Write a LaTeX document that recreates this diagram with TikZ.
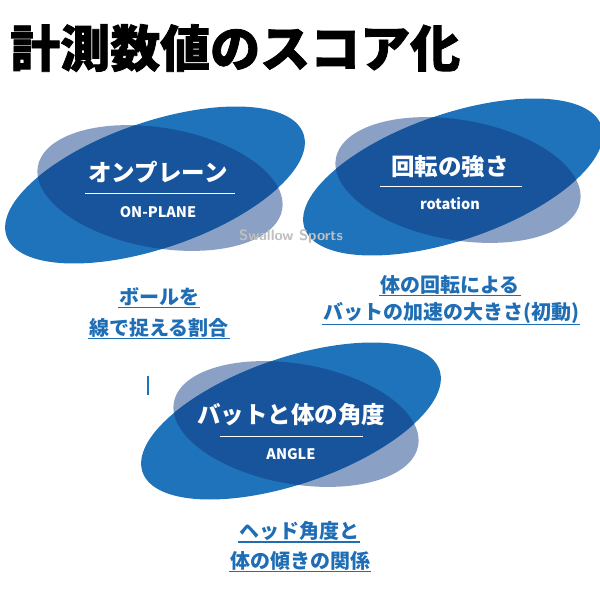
\documentclass[tikz,border=0pt]{standalone}
\usepackage{fontspec}
\newfontfamily\jp{Noto Sans CJK JP}
\newfontfamily\jptitle{Noto Sans CJK JP}[FakeBold=1.5]
\definecolor{ovalblue}{RGB}{30,115,186}
\definecolor{ovalgrey}{RGB}{138,160,196}
\definecolor{ovaldark}{RGB}{24,84,156}
\definecolor{capblue}{RGB}{31,110,181}

\begin{document}
\begin{tikzpicture}[x=1pt,y=-1pt,
  heading/.style={text=white, font=\jp\bfseries\fontsize{23.5}{23.5}\selectfont, inner sep=0},
  subhead/.style={text=white, font=\jp\bfseries\fontsize{14.5}{14.5}\selectfont, inner sep=0},
  caption/.style={text=capblue, font=\jp\bfseries\fontsize{20}{20}\selectfont, inner sep=1pt}]
\useasboundingbox (0,0) rectangle (600,600);

\node[anchor=west, inner sep=0, font=\jptitle\bfseries\fontsize{50}{50}\selectfont] (title) at (10,48) {計測数値のスコア化};

% three pairs of ovals
\foreach \dx/\dy in {0/0, 298/-8, 136/236} {
  \begin{scope}[shift={(\dx,\dy)}]
    \fill[ovalgrey, rotate around={-10:(160,188)}] (160,188) ellipse [x radius=124, y radius=60];
    \fill[ovalblue, rotate around={19:(155,185)}] (155,185) ellipse [x radius=157, y radius=63];
    \begin{scope}
      \clip[rotate around={-10:(160,188)}] (160,188) ellipse [x radius=124, y radius=60];
      \fill[ovaldark, rotate around={19:(155,185)}] (155,185) ellipse [x radius=157, y radius=63];
    \end{scope}
  \end{scope}
}
\draw[ovalblue, line width=1.5] (148,376) -- (148,395);

\node[heading] (h1) at (158,172) {オンプレーン};
\draw[white, line width=1] (85,193) -- (235,193);
\node[subhead] (s1) at (158,212) {ON-PLANE};

\node[heading] (h2) at (450,167) {回転の強さ};
\draw[white, line width=1] (380,186) -- (522,186);
\node[subhead] (s2) at (450,204) {rotation};

\node[heading] (h3) at (291,415) {バットと体の角度};
\draw[white, line width=1] (220,436) -- (363,436);
\node[subhead] (s3) at (291,454) {ANGLE};

\node[text=gray!50, font=\sffamily\bfseries\fontsize{15}{15}\selectfont, inner sep=0] (mark) at (291,237) {Swallow Sports};

% captions
\node[caption] (c1a) at (159,297) {ボールを};
\node[caption] (c1b) at (159,328) {線で捉える割合};
\node[caption] (c2a) at (450,285) {体の回転による};
\node[caption] (c2b) at (451,313) {バットの加速の大きさ(初動)};
\node[caption] (c3a) at (299,531) {ヘッド角度と};
\node[caption] (c3b) at (300,561) {体の傾きの関係};
\foreach \c in {c1a,c1b,c2a,c2b,c3a,c3b}
  \draw[capblue, line width=1.3] (\c.south west) -- (\c.south east);

\end{tikzpicture}
\end{document}
